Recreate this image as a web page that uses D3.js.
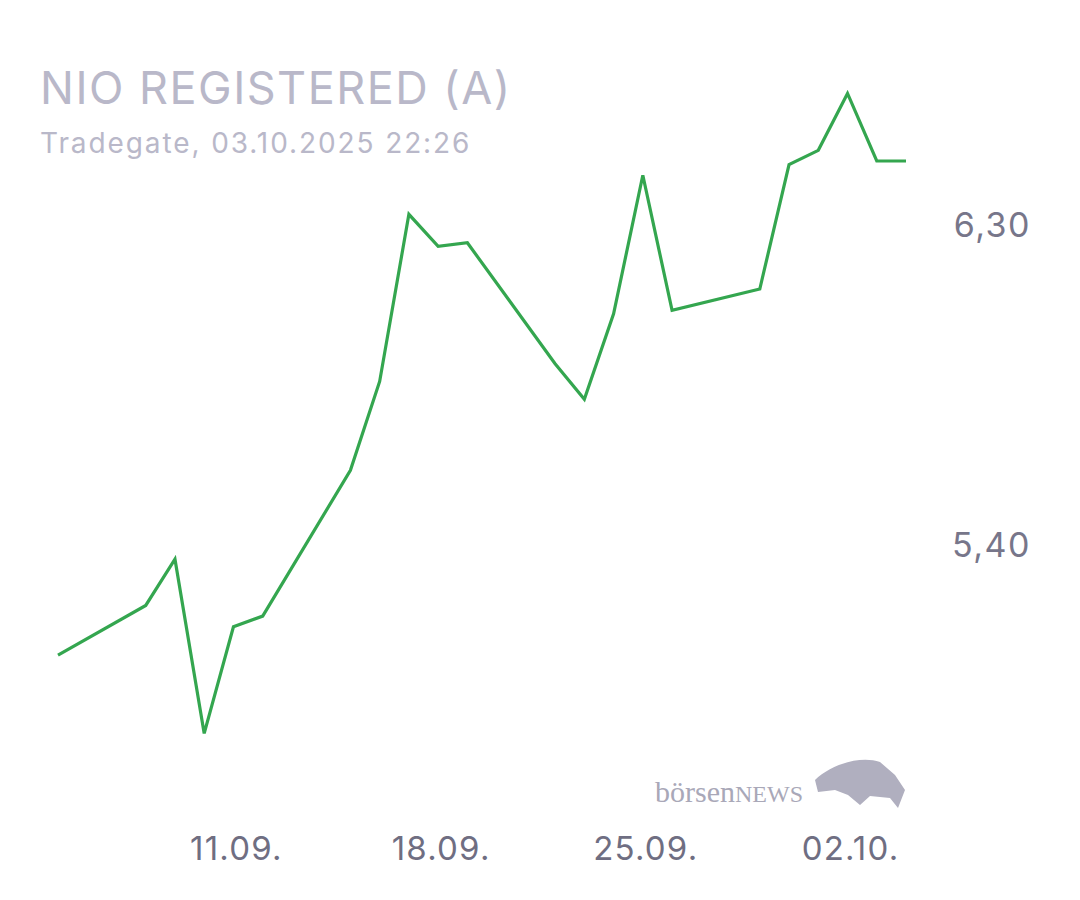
<!DOCTYPE html>
<html><head><meta charset="utf-8">
<script src="https://cdn.jsdelivr.net/npm/d3@7"></script>
<style>body{margin:0;background:#fff}</style>
</head><body>
<svg id="chart" width="1080" height="900"></svg>
<script>
const dates = ["2025-09-05","2025-09-08","2025-09-09","2025-09-10","2025-09-11","2025-09-12",
  "2025-09-15","2025-09-16","2025-09-17","2025-09-18","2025-09-19",
  "2025-09-22","2025-09-23","2025-09-24","2025-09-25","2025-09-26",
  "2025-09-29","2025-09-30","2025-10-01","2025-10-02","2025-10-03","2025-10-04"];
const prices = [5.09,5.23,5.36,4.87,5.17,5.20,5.61,5.86,6.33,6.24,6.25,5.91,5.81,6.05,6.44,6.06,6.12,6.47,6.51,6.67,6.48,6.48];
const yTicks = [5.40, 6.30];
const xTicks = ["2025-09-11","2025-09-18","2025-09-25","2025-10-02"];

const parse = d3.timeParse("%Y-%m-%d");
const data = dates.map((d, i) => ({date: parse(d), v: prices[i]}));
const svg = d3.select("#chart");

const x = d3.scaleTime()
  .domain([parse("2025-09-05"), parse("2025-10-04")])
  .range([58, 906]);
const y = d3.scaleLinear().domain([5.40, 6.30]).range([545, 225]);

// title
svg.append("text").attr("x", 40).attr("y", 104)
  .attr("font-family", "Inter, sans-serif").attr("font-size", 45)
  .attr("fill", "#b9b8c9").attr("letter-spacing", 1.5).text("NIO REGISTERED (A)");
svg.append("text").attr("x", 40).attr("y", 153)
  .attr("font-family", "Inter, sans-serif").attr("font-size", 28)
  .attr("fill", "#b9b8c9").attr("letter-spacing", 1.9).text("Tradegate, 03.10.2025 22:26");

// y axis labels
svg.append("g").selectAll("text").data(yTicks).join("text")
  .attr("x", 1031).attr("y", d => y(d) + 12)
  .attr("text-anchor", "end")
  .attr("font-family", "Inter, sans-serif").attr("font-size", 34)
  .attr("fill", "#77768a").attr("letter-spacing", 1.5)
  .text(d => d3.format(".2f")(d).replace(".", ","));

// x axis labels
const fmt = d3.timeFormat("%d.%m.");
svg.append("g").selectAll("text").data(xTicks).join("text")
  .attr("x", d => x(parse(d)) + 3).attr("y", 860)
  .attr("text-anchor", "middle")
  .attr("font-family", "Inter, sans-serif").attr("font-size", 33)
  .attr("fill", "#6f6e82").attr("letter-spacing", 1.2)
  .text(d => fmt(parse(d)));

// watermark
svg.append("text").attr("x", 655).attr("y", 802)
  .attr("font-family", "Liberation Serif, serif").attr("font-size", 30)
  .attr("fill", "#a9a8b8")
  .html('börsen<tspan font-size="24">NEWS</tspan>');
svg.append("path")
  .attr("d", "M815,780 C830,765 860,755 880,762 L895,775 L905,790 L898,808 L890,798 L870,796 L860,805 L848,795 L835,790 L818,792 Z")
  .attr("fill", "#b0afbf");

// line
const line = d3.line().x(d => x(d.date)).y(d => y(d.v));
svg.append("path").datum(data)
  .attr("fill", "none").attr("stroke", "#34a64f").attr("stroke-width", 3.2)
  .attr("stroke-linejoin", "miter").attr("d", line);
</script>
</body></html>
